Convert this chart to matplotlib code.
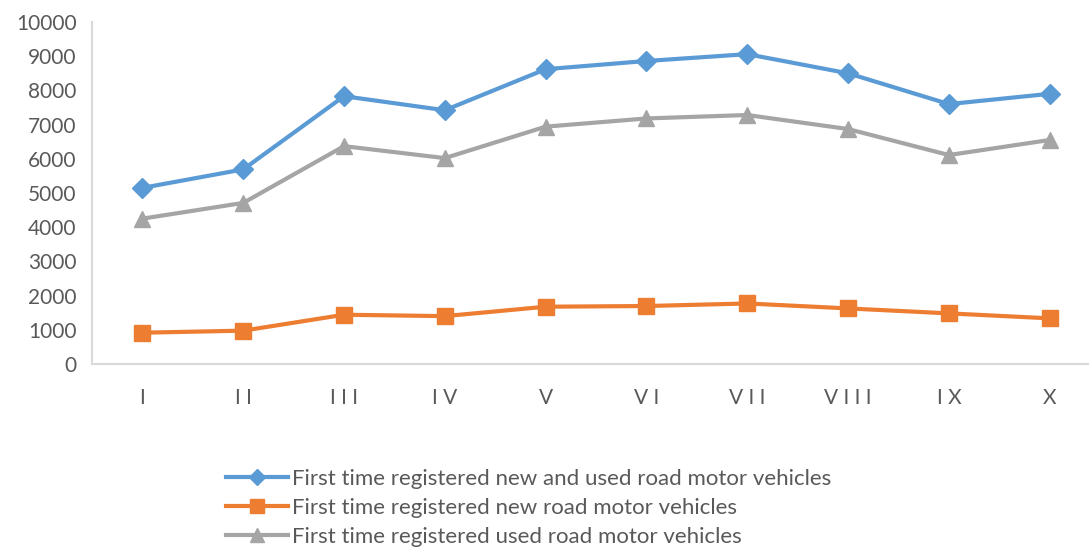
import matplotlib
matplotlib.use('Agg')
from matplotlib import pyplot as plt

months = ['I', 'I I', 'I I I', 'I V', 'V', 'V I', 'V I I', 'V I I I', 'I X', 'X']

new_and_used = [5150, 5690, 7830, 7420, 8620, 8860, 9060, 8500, 7600, 7900]
new_only = [915, 975, 1440, 1400, 1675, 1695, 1770, 1625, 1480, 1335]
used_only = [4250, 4710, 6370, 6020, 6940, 7180, 7280, 6870, 6110, 6550]

labels = ['First time registered new and used road motor vehicles',
          'First time registered new road motor vehicles',
          'First time registered used road motor vehicles']

plt.rcParams['font.family'] = ['Lato', 'DejaVu Sans']
text_color = '#595959'

fig = plt.figure(figsize=(10.89, 5.47), dpi=100)
ax = fig.add_axes([92 / 1089, 1 - 364 / 547, 1 - 92 / 1089, (364 - 22) / 547])

x = range(len(months))
ax.plot(x, new_and_used, color='#5B9BD5', lw=3, marker='D', ms=10, label=labels[0])
ax.plot(x, new_only, color='#ED7D31', lw=3, marker='s', ms=12, label=labels[1])
ax.plot(x, used_only, color='#A5A5A5', lw=3, marker='^', ms=12, label=labels[2])

ax.set_ylim(0, 10000)
ax.set_xlim(-0.5, 9.39)
ax.set_yticks(range(0, 10001, 1000))
ax.set_xticks(list(x))
ax.set_xticklabels(months)
ax.tick_params(length=0, labelsize=15, labelcolor=text_color)
ax.tick_params(axis='x', pad=17)
ax.tick_params(axis='y', pad=11)

for side in ['top', 'right']:
    ax.spines[side].set_visible(False)
for side in ['left', 'bottom']:
    ax.spines[side].set_color('#d9d9d9')
    ax.spines[side].set_linewidth(1.5)

leg = fig.legend(loc='center left', bbox_to_anchor=(226 / 1089, 1 - 508 / 547),
                 frameon=False, fontsize=16, handlelength=2.8, handletextpad=0.15,
                 labelspacing=0.4, borderpad=0, borderaxespad=0, markerscale=0.85)
for t in leg.get_texts():
    t.set_color(text_color)

fig.savefig('out.png', dpi=100)
